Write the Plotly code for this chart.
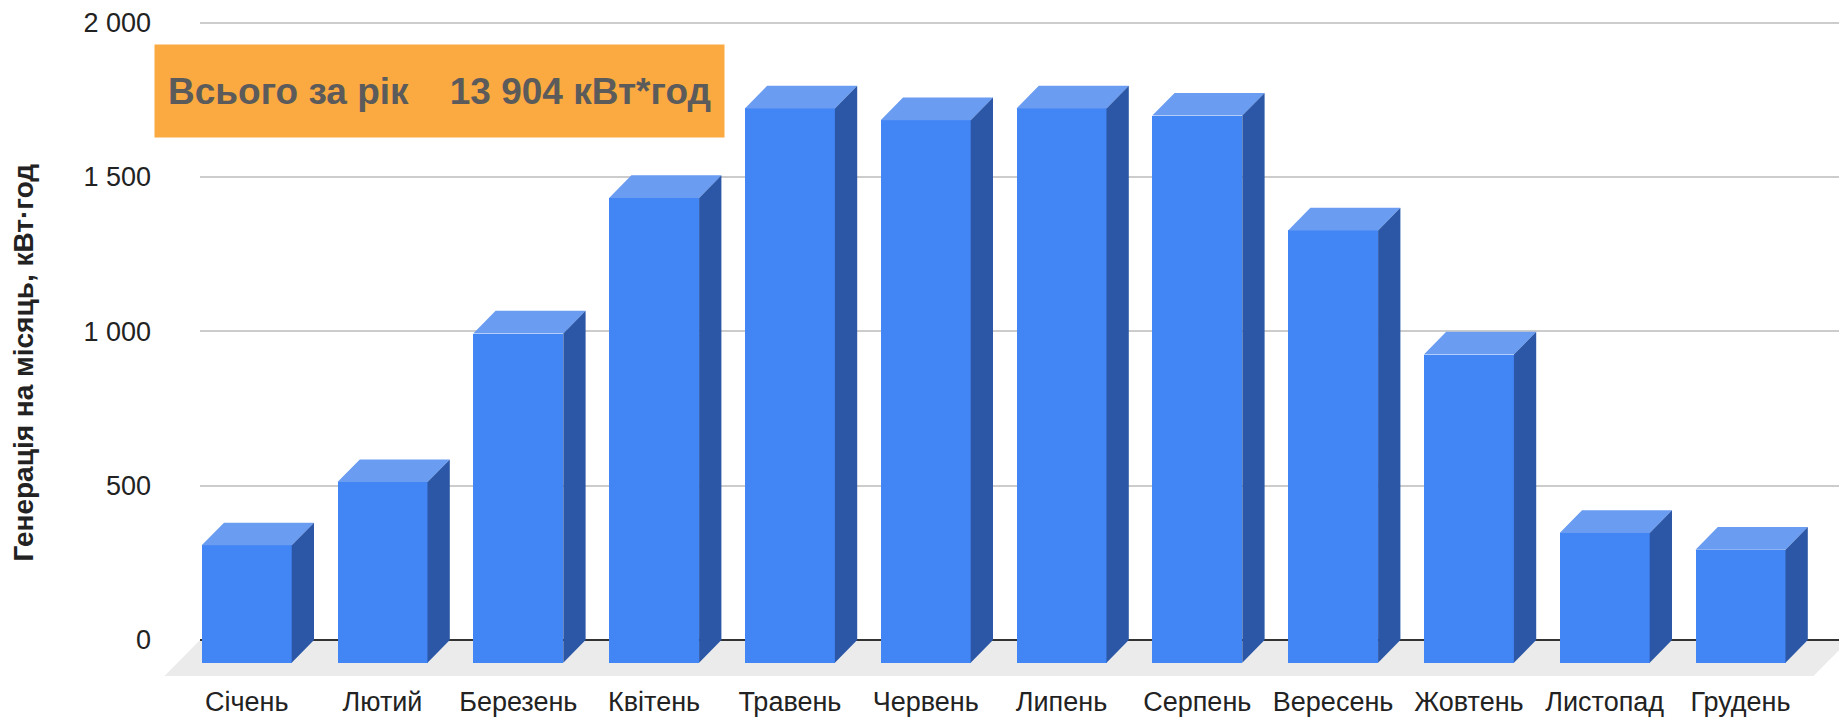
import plotly.graph_objects as go

# ---------------- data ----------------
months = ["Січень", "Лютий", "Березень", "Квітень", "Травень", "Червень",
          "Липень", "Серпень", "Вересень", "Жовтень", "Листопад", "Грудень"]
generation = [380, 585, 1066, 1505, 1795, 1757, 1795, 1772, 1400, 998, 420, 366]
y_tick_vals = [0, 500, 1000, 1500, 2000]
y_tick_text = ["0", "500", "1 000", "1 500", "2 000"]
total_label = "Всього за рік\u00a0\u00a0\u00a0 13 904 кВт*год"
y_title = "Генерація на місяць, кВт·год"

# ---------------- layout geometry (pixels) ----------------
W, H = 1839, 718
MB = 38
PH = H - MB
GRID_LEFT = 200
FLOOR_LEFT = 160
X0_PX = 246.7      # pixel of first category (front face centre)
STEP_PX = 135.8    # pixels per category
Y0_PX = 640.0      # pixel of value 0
Y2000_PX = 22.5    # pixel of value 2000
s = (Y0_PX - Y2000_PX) / 2000.0
y_top = 2000 + Y2000_PX / s
y_bot = -(PH - Y0_PX) / s


def px_to_x(px):
    return (px - X0_PX) / STEP_PX


half_w = 45.0 / STEP_PX
dxu = 22.3 / STEP_PX
dyv = 22.7 / s
floor_dx = 35.5 / STEP_PX
floor_dy = 36.0 / s

FONT = "Arial, 'Liberation Sans', sans-serif"
FRONT = "#4285f4"
TOP = "#6a9cf2"
SIDE = "#2b57a6"

idx = list(range(len(months)))

# top and side faces derived from the values
top_x, top_y, side_x, side_y = [], [], [], []
for i, v in zip(idx, generation):
    top_x += [i - half_w, i + half_w, i + half_w + dxu, i - half_w + dxu, i - half_w, None]
    top_y += [v - dyv, v - dyv, v, v, v - dyv, None]
    side_x += [i + half_w, i + half_w, i + half_w + dxu, i + half_w + dxu, i + half_w, None]
    side_y += [-dyv, v - dyv, v, 0, -dyv, None]

fig = go.Figure()

# floor (own subplot so it can extend left of the gridlines)
bl = px_to_x(GRID_LEFT)
br = px_to_x(1849)
fig.add_trace(go.Scatter(
    x=[bl, br, br - floor_dx, bl - floor_dx, bl],
    y=[0, 0, -floor_dy, -floor_dy, 0],
    fill="toself", fillcolor="#ebebeb", mode="lines", line=dict(width=0),
    hoverinfo="skip", showlegend=False, xaxis="x", yaxis="y"))

# front faces
fig.add_trace(go.Bar(
    x=idx, y=generation, base=[-dyv] * len(idx), width=2 * half_w,
    marker=dict(color=FRONT, line=dict(width=0)),
    showlegend=False, xaxis="x2", yaxis="y2"))
fig.add_trace(go.Scatter(
    x=top_x, y=top_y, fill="toself", fillcolor=TOP, mode="lines",
    line=dict(width=0, color=TOP), hoverinfo="skip", showlegend=False,
    xaxis="x2", yaxis="y2"))
fig.add_trace(go.Scatter(
    x=side_x, y=side_y, fill="toself", fillcolor=SIDE, mode="lines",
    line=dict(width=0, color=SIDE), hoverinfo="skip", showlegend=False,
    xaxis="x2", yaxis="y2"))

hidden = dict(showgrid=False, zeroline=False, showticklabels=False,
              showline=False, ticks="")

fig.update_layout(
    width=W, height=H, autosize=False,
    margin=dict(l=0, r=0, t=0, b=MB, pad=0),
    paper_bgcolor="white", plot_bgcolor="rgba(0,0,0,0)",
    font=dict(family=FONT, color="#222222"),
    xaxis=dict(domain=[FLOOR_LEFT / W, 1], range=[px_to_x(FLOOR_LEFT), px_to_x(W)],
               anchor="y", **hidden),
    yaxis=dict(domain=[0, 1], range=[y_bot, y_top], anchor="x", **hidden),
    xaxis2=dict(domain=[GRID_LEFT / W, 1], range=[px_to_x(GRID_LEFT), px_to_x(W)],
                anchor="y2", tickmode="array", tickvals=idx, ticktext=months,
                tickfont=dict(size=27, color="#222222", family=FONT),
                showgrid=False, zeroline=False, showline=False, ticks="",
                ticklabelstandoff=3, automargin=False),
    yaxis2=dict(domain=[0, 1], range=[y_bot, y_top], anchor="x2",
                tickmode="array", tickvals=y_tick_vals, ticktext=y_tick_text,
                tickfont=dict(size=27, color="#222222", family=FONT),
                showgrid=True, gridcolor="#cccccc", gridwidth=2,
                zeroline=True, zerolinecolor="#333333", zerolinewidth=2,
                showline=False, ticks="", ticklabelstandoff=48, automargin=False),
    bargap=0,
)

# y axis title
fig.add_annotation(
    text="<b>" + y_title + "</b>", textangle=-90,
    xref="paper", yref="paper", x=23 / W, y=1 - 362.5 / PH,
    xanchor="center", yanchor="middle", showarrow=False,
    font=dict(size=28, color="#222222", family=FONT))

# total box
fig.add_annotation(
    text="<b>" + total_label + "</b>",
    xref="paper", yref="paper", x=154 / W, y=1 - 44 / PH,
    xanchor="left", yanchor="top", showarrow=False,
    width=569, height=92, borderpad=0, align="center", valign="middle",
    bgcolor="#fba941",
    font=dict(size=37, color="#5b5b5b", family=FONT))

fig.write_html(
    "out.html",
    config={"displayModeBar": False},
    post_script="document.body.style.margin='0px';document.body.style.overflow='hidden';")
